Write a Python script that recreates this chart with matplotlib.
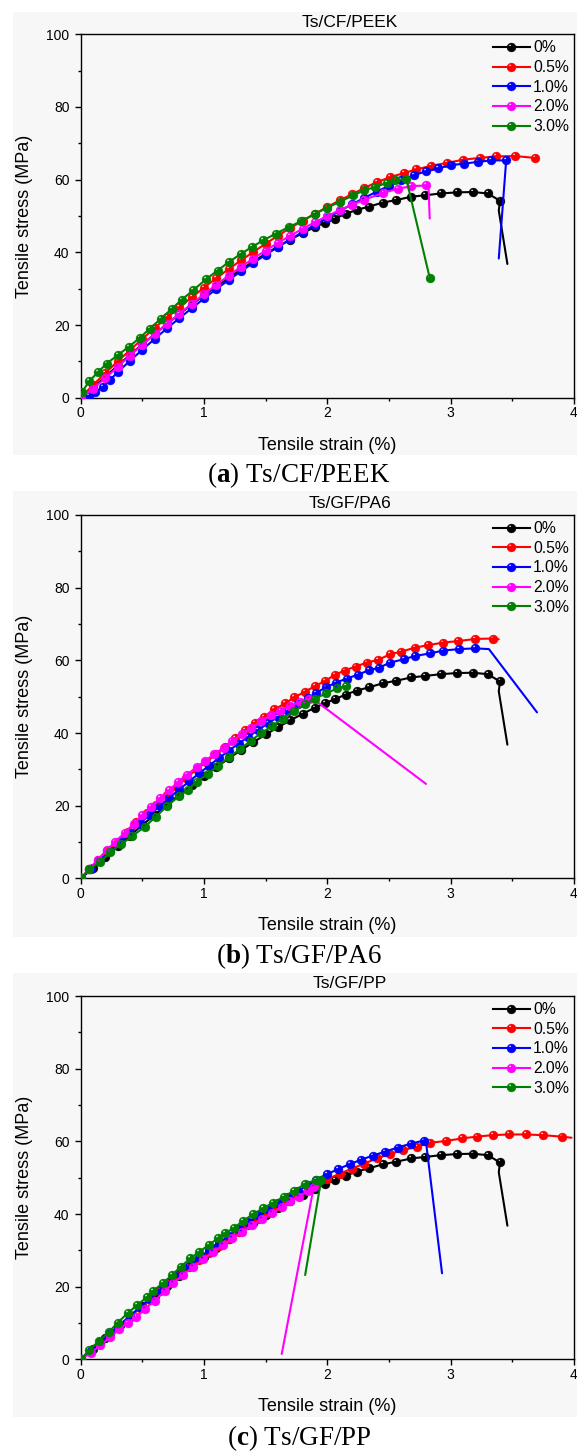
import numpy as np
import matplotlib
matplotlib.use("Agg")
import matplotlib.pyplot as plt
from matplotlib.path import Path
from matplotlib.patches import Rectangle
from matplotlib.lines import Line2D

plt.rcParams['font.family'] = ['Liberation Sans', 'DejaVu Sans']
plt.rcParams['mathtext.fontset'] = 'custom'
plt.rcParams['mathtext.rm'] = 'Liberation Serif'
plt.rcParams['mathtext.bf'] = 'Liberation Serif:bold'

# ---- data (strain %, stress MPa) ----
LABELS = ["0%", "0.5%", "1.0%", "2.0%", "3.0%"]
COLORS = ["black", "#ff0000", "#0000ff", "#ff00ff", "#008000"]
TITLES = ["Ts/CF/PEEK", "Ts/GF/PA6", "Ts/GF/PP"]
LETTERS = ["a", "b", "c"]

# 0% reference, identical in all three panels
BLACK_X = [0, 0.1, 0.2, 0.3, 0.4, 0.5, 0.6, 0.7, 0.8, 0.9, 1.0, 1.1, 1.2, 1.3, 1.4, 1.5, 1.6, 1.7,
           1.8, 1.9, 1.98, 2.06, 2.15, 2.24, 2.34, 2.45, 2.56, 2.68, 2.79, 2.92, 3.05, 3.18, 3.30, 3.40]
BLACK_Y = [0, 2.8, 5.8, 8.8, 11.8, 14.7, 17.5, 20.3, 23.0, 25.6, 28.2, 30.6, 33.0, 35.3, 37.5, 39.6, 41.6, 43.5,
           45.3, 47.0, 48.2, 49.3, 50.6, 51.7, 52.6, 53.7, 54.4, 55.3, 55.7, 56.2, 56.5, 56.6, 56.2, 54.2]
BLACK_TAIL_X = [3.39, 3.46]
BLACK_TAIL_Y = [51.5, 36.8]

# (a) Ts/CF/PEEK
PEEK_RED_X = [0, 0.1, 0.2, 0.3, 0.4, 0.5, 0.6, 0.7, 0.8, 0.9, 1.0, 1.1, 1.2, 1.3, 1.4, 1.5, 1.6, 1.7, 1.8,
              1.9, 2.0, 2.1, 2.2, 2.3, 2.4, 2.51, 2.62, 2.72, 2.84, 2.97, 3.10, 3.24, 3.37, 3.52, 3.68]
PEEK_RED_Y = [0, 3.5, 6.8, 10.0, 13.1, 16.2, 19.2, 22.1, 24.9, 27.6, 30.3, 32.9, 35.4, 37.8, 40.1, 42.4, 44.6,
              46.7, 48.7, 50.6, 52.5, 54.3, 56.0, 57.7, 59.3, 60.7, 61.8, 62.8, 63.8, 64.6, 65.5, 66.0, 66.4,
              66.5, 66.0]
PEEK_RED_TAIL_X = []
PEEK_RED_TAIL_Y = []
PEEK_BLUE_X = [0, 0.07, 0.12, 0.18, 0.24, 0.3, 0.4, 0.5, 0.6, 0.7, 0.8, 0.9, 1.0, 1.1, 1.2, 1.3, 1.4, 1.5,
               1.6, 1.7, 1.8, 1.9, 2.0, 2.1, 2.2, 2.3, 2.4, 2.5, 2.6, 2.7, 2.8, 2.9, 3.0, 3.11, 3.22, 3.33, 3.45]
PEEK_BLUE_Y = [0, 0.6, 1.5, 3.0, 5.0, 7.0, 10.2, 13.2, 16.2, 19.1, 21.9, 24.6, 27.3, 29.9, 32.4, 34.8, 37.1,
               39.3, 41.5, 43.6, 45.6, 47.6, 49.5, 51.4, 53.2, 55.0, 56.7, 58.3, 59.8, 61.2, 62.3, 63.1, 64.0,
               64.4, 64.9, 65.3, 65.3]
PEEK_BLUE_TAIL_X = [3.39]
PEEK_BLUE_TAIL_Y = [38.3]
PEEK_MAG_X = [0, 0.1, 0.2, 0.3, 0.4, 0.5, 0.6, 0.7, 0.8, 0.9, 1.0, 1.1, 1.2, 1.3, 1.4, 1.5, 1.6, 1.7, 1.8,
              1.9, 2.0, 2.1, 2.2, 2.3, 2.45, 2.57, 2.68, 2.80]
PEEK_MAG_Y = [0, 2.5, 5.4, 8.5, 11.6, 14.6, 17.5, 20.3, 23.1, 25.8, 28.5, 31.1, 33.6, 36.0, 38.3, 40.5, 42.6,
              44.6, 46.5, 48.3, 50.0, 51.6, 53.1, 54.5, 56.3, 57.5, 58.2, 58.4]
PEEK_MAG_TAIL_X = [2.82, 2.83]
PEEK_MAG_TAIL_Y = [58.4, 49.3]
PEEK_GREEN_X = [0.01, 0.07, 0.14, 0.21, 0.3, 0.39, 0.48, 0.56, 0.65, 0.74, 0.82, 0.91, 1.02, 1.11, 1.2, 1.3,
                1.39, 1.48, 1.58, 1.69, 1.79, 1.9, 2.0, 2.1, 2.21, 2.3, 2.39, 2.48, 2.55, 2.64, 2.83]
PEEK_GREEN_Y = [1.5, 4.6, 7.0, 9.4, 11.7, 14.0, 16.5, 19.0, 21.7, 24.5, 27.0, 29.5, 32.7, 35.0, 37.3, 39.6,
                41.5, 43.3, 45.1, 47.0, 48.6, 50.6, 52.3, 53.9, 55.7, 57.1, 58.0, 59.1, 59.8, 60.2, 33.0]
PEEK_GREEN_TAIL_X = []
PEEK_GREEN_TAIL_Y = []

# (b) Ts/GF/PA6
PA6_RED_X = [0, 0.07, 0.14, 0.21, 0.3, 0.38, 0.45, 0.54, 0.61, 0.70, 0.78, 0.85, 0.94, 1.02, 1.1, 1.17, 1.25,
             1.33, 1.41, 1.49, 1.57, 1.66, 1.73, 1.82, 1.9, 1.98, 2.06, 2.14, 2.23, 2.32, 2.41, 2.51, 2.6,
             2.71, 2.82, 2.94, 3.06, 3.2, 3.34]
PA6_RED_Y = [0, 2.5, 5.0, 7.5, 10.1, 12.8, 15.6, 17.9, 20.2, 22.9, 25.2, 27.5, 30.0, 32.1, 34.2, 36.2, 38.5,
             40.8, 42.8, 44.5, 46.5, 48.2, 49.8, 51.4, 52.9, 54.3, 56.0, 57.2, 58.3, 59.4, 60.1, 61.7, 62.4,
             63.5, 64.2, 64.9, 65.3, 65.9, 66.0]
PA6_RED_TAIL_X = [3.39]
PA6_RED_TAIL_Y = [65.8]
PA6_BLUE_X = [0, 0.08, 0.16, 0.24, 0.32, 0.4, 0.48, 0.56, 0.64, 0.72, 0.8, 0.88, 0.96, 1.04, 1.12, 1.2, 1.28,
              1.36, 1.44, 1.52, 1.6, 1.68, 1.76, 1.84, 1.91, 1.99, 2.07, 2.16, 2.25, 2.34, 2.42, 2.51, 2.62,
              2.71, 2.83, 2.94, 3.07, 3.2]
PA6_BLUE_Y = [0, 2.5, 5.1, 7.6, 10.1, 12.6, 15.1, 17.5, 19.9, 22.2, 24.5, 26.7, 28.9, 31.0, 33.1, 35.1, 37.1,
              39.0, 40.9, 42.7, 44.5, 46.2, 47.9, 49.6, 51.1, 52.6, 53.9, 55.0, 56.1, 57.3, 58.0, 59.4, 60.3,
              61.2, 61.9, 62.7, 63.1, 63.3]
PA6_BLUE_TAIL_X = [3.31, 3.70]
PA6_BLUE_TAIL_Y = [63.1, 45.7]
PA6_MAG_X = [0, 0.07, 0.14, 0.21, 0.28, 0.36, 0.43, 0.5, 0.57, 0.64, 0.72, 0.79, 0.86, 0.94, 1.01, 1.08, 1.16,
             1.23, 1.31, 1.38, 1.46, 1.54, 1.62, 1.7, 1.78, 1.85]
PA6_MAG_Y = [0, 2.6, 5.2, 7.7, 10.1, 12.6, 15.1, 17.4, 19.7, 22.0, 24.3, 26.6, 28.5, 30.6, 32.4, 34.1, 36.0,
             37.9, 39.7, 41.4, 43.2, 44.9, 46.2, 47.5, 48.6, 49.3]
PA6_MAG_TAIL_X = [1.92, 2.80]
PA6_MAG_TAIL_Y = [48.5, 26.0]
PA6_GREEN_X = [0, 0.07, 0.16, 0.24, 0.33, 0.42, 0.52, 0.61, 0.7, 0.8, 0.87, 0.94, 1.03, 1.11, 1.2, 1.29, 1.38,
               1.46, 1.55, 1.64, 1.73, 1.82, 1.9, 1.99, 2.08, 2.15]
PA6_GREEN_Y = [0, 2.5, 4.6, 7.2, 9.4, 11.7, 14.2, 17.0, 19.9, 22.7, 24.3, 26.6, 28.7, 30.9, 33.3, 35.5, 37.9,
               39.9, 41.9, 44.0, 46.1, 47.9, 49.5, 50.9, 52.3, 52.9]
PA6_GREEN_TAIL_X = []
PA6_GREEN_TAIL_Y = []

# (c) Ts/GF/PP
PP_RED_X = [0, 0.08, 0.16, 0.24, 0.32, 0.4, 0.48, 0.56, 0.64, 0.72, 0.8, 0.88, 0.96, 1.04, 1.12, 1.2, 1.28,
            1.36, 1.44, 1.52, 1.6, 1.68, 1.76, 1.84, 1.92, 2.0, 2.1, 2.2, 2.3, 2.4, 2.51, 2.61, 2.73, 2.83,
            2.96, 3.09, 3.21, 3.34, 3.47, 3.61, 3.75, 3.9]
PP_RED_Y = [0, 2.2, 4.6, 7.0, 9.4, 11.8, 14.1, 16.4, 18.7, 21.0, 23.2, 25.3, 27.3, 29.3, 31.3, 33.2, 35.1,
            36.9, 38.7, 40.4, 42.1, 43.7, 45.3, 46.8, 48.3, 49.6, 51.1, 52.5, 53.9, 55.3, 56.5, 57.6, 58.5,
            59.6, 60.1, 60.8, 61.3, 61.7, 61.9, 61.9, 61.7, 61.3]
PP_RED_TAIL_X = [3.98]
PP_RED_TAIL_Y = [61.0]
PP_BLUE_X = [0, 0.08, 0.16, 0.24, 0.32, 0.4, 0.48, 0.56, 0.64, 0.72, 0.8, 0.88, 0.96, 1.04, 1.12, 1.2, 1.28,
             1.36, 1.44, 1.52, 1.6, 1.68, 1.76, 1.84, 1.91, 2.0, 2.09, 2.18, 2.27, 2.37, 2.47, 2.57, 2.68, 2.78]
PP_BLUE_Y = [0, 2.2, 4.7, 7.2, 9.6, 12.0, 14.4, 16.7, 19.0, 21.3, 23.5, 25.7, 27.9, 30.0, 32.0, 34.0, 35.9,
             37.8, 39.6, 41.4, 43.1, 44.7, 46.3, 47.9, 49.5, 51.0, 52.4, 53.7, 54.9, 56.1, 57.2, 58.3, 59.4, 60.2]
PP_BLUE_TAIL_X = [2.80, 2.93]
PP_BLUE_TAIL_Y = [59.8, 23.7]
PP_MAG_X = [0, 0.08, 0.16, 0.24, 0.31, 0.38, 0.45, 0.52, 0.6, 0.68, 0.75, 0.83, 0.91, 0.99, 1.07, 1.15, 1.23,
            1.31, 1.39, 1.47, 1.55, 1.63, 1.7, 1.77, 1.84, 1.89]
PP_MAG_Y = [0, 1.7, 3.9, 6.1, 8.3, 10.1, 11.6, 13.8, 16.2, 18.7, 21.0, 23.3, 25.4, 27.5, 29.5, 31.4, 33.3,
            35.1, 36.9, 38.6, 40.3, 42.0, 43.5, 44.8, 46.3, 47.5]
PP_MAG_TAIL_X = [1.63]
PP_MAG_TAIL_Y = [1.5]
PP_GREEN_X = [0, 0.07, 0.15, 0.23, 0.3, 0.38, 0.46, 0.54, 0.59, 0.67, 0.74, 0.81, 0.89, 0.96, 1.04, 1.11, 1.17,
              1.24, 1.32, 1.4, 1.48, 1.56, 1.65, 1.73, 1.82, 1.91, 1.95]
PP_GREEN_Y = [0, 2.6, 5.1, 7.6, 10.1, 12.7, 15.0, 17.2, 18.9, 21.1, 23.2, 25.5, 27.8, 29.6, 31.5, 33.3, 34.7,
              36.1, 38.2, 40.0, 41.6, 43.1, 44.8, 46.4, 48.3, 49.4, 49.5]
PP_GREEN_TAIL_X = [1.82]
PP_GREEN_TAIL_Y = [23.2]

PANELS = [
    [(BLACK_X, BLACK_Y, BLACK_TAIL_X, BLACK_TAIL_Y),
     (PEEK_RED_X, PEEK_RED_Y, PEEK_RED_TAIL_X, PEEK_RED_TAIL_Y),
     (PEEK_BLUE_X, PEEK_BLUE_Y, PEEK_BLUE_TAIL_X, PEEK_BLUE_TAIL_Y),
     (PEEK_MAG_X, PEEK_MAG_Y, PEEK_MAG_TAIL_X, PEEK_MAG_TAIL_Y),
     (PEEK_GREEN_X, PEEK_GREEN_Y, PEEK_GREEN_TAIL_X, PEEK_GREEN_TAIL_Y)],
    [(BLACK_X, BLACK_Y, BLACK_TAIL_X, BLACK_TAIL_Y),
     (PA6_RED_X, PA6_RED_Y, PA6_RED_TAIL_X, PA6_RED_TAIL_Y),
     (PA6_BLUE_X, PA6_BLUE_Y, PA6_BLUE_TAIL_X, PA6_BLUE_TAIL_Y),
     (PA6_MAG_X, PA6_MAG_Y, PA6_MAG_TAIL_X, PA6_MAG_TAIL_Y),
     (PA6_GREEN_X, PA6_GREEN_Y, PA6_GREEN_TAIL_X, PA6_GREEN_TAIL_Y)],
    [(BLACK_X, BLACK_Y, BLACK_TAIL_X, BLACK_TAIL_Y),
     (PP_RED_X, PP_RED_Y, PP_RED_TAIL_X, PP_RED_TAIL_Y),
     (PP_BLUE_X, PP_BLUE_Y, PP_BLUE_TAIL_X, PP_BLUE_TAIL_Y),
     (PP_MAG_X, PP_MAG_Y, PP_MAG_TAIL_X, PP_MAG_TAIL_Y),
     (PP_GREEN_X, PP_GREEN_Y, PP_GREEN_TAIL_X, PP_GREEN_TAIL_Y)],
]

# ---- layout (pixels of the 577x1452 picture) ----
W, H = 577, 1452
BG = "#f7f7f7"
AX_LEFT, AX_W, AX_H = 80.7, 493.3, 363.4
AX_TOPS = [34.3, 515.0, 996.0]
GRAY_SPANS = [(12, 455), (491, 937), (973, 1417)]
CAPTION_BASE = [482, 963, 1445]


# round marker with a light spot, like the shaded spheres of the original
def shiny_marker():
    outer = Path.unit_circle()
    t = np.linspace(0, 2 * np.pi, 25)[::-1]
    spot = Path(np.column_stack([-0.32 + 0.24 * np.cos(t), 0.42 + 0.24 * np.sin(t)]), closed=True)
    return Path.make_compound_path(outer, spot)


MARKER = shiny_marker()
LW, MS = 1.5, 6.4

fig = plt.figure(figsize=(W / 100, H / 100), dpi=100)

for i, series in enumerate(PANELS):
    g0, g1 = GRAY_SPANS[i]
    fig.add_artist(Rectangle((13 / W, 1 - g1 / H), (W - 13) / W, (g1 - g0) / H,
                             transform=fig.transFigure, facecolor=BG, edgecolor="none", zorder=-5))
    top = AX_TOPS[i]
    ax = fig.add_axes([AX_LEFT / W, 1 - (top + AX_H) / H, AX_W / W, AX_H / H])
    ax.set_facecolor(BG)

    handles = []
    for k, (x, y, tx, ty) in enumerate(series):
        c = COLORS[k]
        if tx:
            ax.plot([x[-1]] + tx, [y[-1]] + ty, color=c, lw=LW, zorder=2 + k, solid_capstyle="round")
        ax.plot(x, y, color=c, lw=LW, marker=MARKER, ms=MS, mec=c, mfc=c, mew=0.3, zorder=2 + k)
        handles.append(Line2D([], [], color=c, lw=LW, marker=MARKER, ms=MS, mec=c, mfc=c, mew=0.3))

    ax.set_xlim(0, 4)
    ax.set_ylim(0, 100)
    ax.set_xticks([0, 1, 2, 3, 4])
    ax.set_xticks([0.5, 1.5, 2.5, 3.5], minor=True)
    ax.set_yticks([0, 20, 40, 60, 80, 100])
    ax.set_yticks([10, 30, 50, 70, 90], minor=True)
    ax.tick_params(which="both", direction="out", width=1.0, labelsize=10, colors="black")
    ax.tick_params(which="major", length=4.5)
    ax.tick_params(which="minor", length=2.3)
    ax.tick_params(axis="x", pad=1.5)
    ax.tick_params(axis="y", pad=3.5)
    for s in ax.spines.values():
        s.set_linewidth(1.0)

    ax.legend(handles, LABELS, loc="upper left", bbox_to_anchor=((493 - AX_LEFT) / AX_W, 1 - 6 / AX_H),
              frameon=False, fontsize=11.3, handlelength=2.35, handletextpad=0.2,
              labelspacing=0.3, borderpad=0, borderaxespad=0)

    fig.text(350 / W, 1 - (top - 12) / H, TITLES[i], fontsize=12.5, ha="center", va="center")
    fig.text(327 / W, 1 - (top + AX_H + 47.5) / H, "Tensile strain (%)", fontsize=13, ha="center", va="center")
    fig.text(25 / W, 1 - (top + AX_H / 2) / H, "Tensile stress (MPa)", fontsize=13, rotation=90,
             ha="center", va="center")
    fig.text(299 / W, 1 - CAPTION_BASE[i] / H, r"($\mathbf{" + LETTERS[i] + r"}$) " + TITLES[i],
             fontsize=19.5, family="Liberation Serif", ha="center", va="baseline")

fig.savefig("out.png", dpi=100)
